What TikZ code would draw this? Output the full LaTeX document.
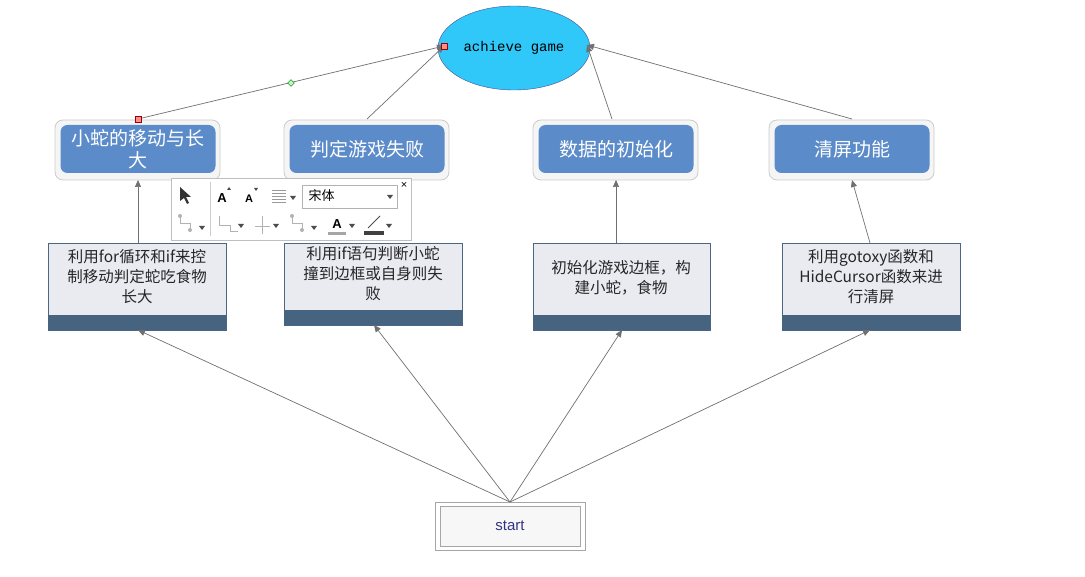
\documentclass[tikz,border=0pt]{standalone}
\usepackage{fontspec}
\setmainfont{Liberation Sans}
\newfontfamily\cjk{Noto Sans CJK SC}
\newfontfamily\monof{Liberation Mono}
\usetikzlibrary{shapes.geometric,arrows.meta}
\definecolor{topblue}{HTML}{5B8BC9}
\definecolor{boxfill}{HTML}{E9EBF1}
\definecolor{boxedge}{HTML}{4A6684}
\definecolor{band}{HTML}{46637F}
\definecolor{cyanf}{HTML}{30C8F8}
\definecolor{linec}{HTML}{707070}
\tikzset{
 x=1pt,y=-1pt,
 conn/.style={draw=linec,line width=0.7pt,-{Triangle[length=7pt,width=6pt]}},
 topouter/.style={draw=gray!40,fill=gray!8,rounded corners=8pt,line width=0.8pt},
 topinner/.style={fill=topblue,rounded corners=7pt,text=white,font=\cjk\fontsize{19}{22}\selectfont,align=center,inner sep=0pt},
 lowbox/.style={draw=boxedge,fill=boxfill,line width=0.7pt},
 lowtext/.style={font=\cjk\fontsize{15.5}{20}\selectfont,align=center,inner sep=0pt,text=black!85},
 mk/.style={draw=red!60!black,fill=red!45,minimum size=6pt,inner sep=0pt},
 tri/.style={fill=black!70},
}
\begin{document}
\begin{tikzpicture}
\useasboundingbox (0,0) rectangle (1085,577);
\fill[white] (0,0) rectangle (1085,577);
% ellipse
\node[ellipse,draw=blue!40!black!70,fill=cyanf,minimum width=140pt,minimum height=84pt,font=\monof\fontsize{14}{16}\selectfont] (goal) at (514,48) {achieve game};
% top boxes
\foreach \n/\cx/\t in {t1/138/{小蛇的移动与长\\大},t2/367/判定游戏失败,t3/616/数据的初始化,t4/852/清屏功能}{
 \draw[topouter] (\cx-83,120) rectangle (\cx+82,180);
 \node[topinner,minimum width=155pt,minimum height=48pt] (\n) at (\cx,149) {\t};
}
% lower boxes
\draw[lowbox] (48,243) rectangle (226,330); \fill[band] (48,315) rectangle (226,330);
\node[lowtext] (b1) at (137,277) {利用for循环和if来控\\制移动判定蛇吃食物\\长大};
\coordinate (b1t) at (138,243); \coordinate (b1b) at (138,330);
\draw[lowbox] (284,243) rectangle (462,325); \fill[band] (284,310) rectangle (462,325);
\node[lowtext] (b2) at (373,274) {利用if语句判断小蛇\\撞到边框或自身则失\\败};
\coordinate (b2b) at (374,325);
\draw[lowbox] (533,243) rectangle (710,330); \fill[band] (533,315) rectangle (710,330);
\node[lowtext] (b3) at (621,278) {初始化游戏边框，构\\建小蛇，食物};
\coordinate (b3t) at (616,243); \coordinate (b3b) at (622,330);
\draw[lowbox] (782,243) rectangle (960,330); \fill[band] (782,315) rectangle (960,330);
\node[lowtext] (b4) at (871,277) {利用gotoxy函数和\\HideCursor函数来进\\行清屏};
\coordinate (b4t) at (870,243); \coordinate (b4b) at (870,330);
% start
\draw[gray!70,line width=0.8pt] (435,502) rectangle (585,550);
\node[draw=gray!70,line width=0.8pt,fill=gray!6,minimum width=140pt,minimum height=40pt,text=blue!40!black!80,font=\fontsize{15}{17}\selectfont] (start) at (510,526) {start};
\coordinate (s) at (510,502);
% connectors
\foreach \e in {b1b,b2b,b3b,b4b}{\draw[conn] (s) -- (\e);}
\coordinate (t1b) at (138,180); \coordinate (t3b) at (616,180); \coordinate (t4b) at (852,180);
\draw[conn] (b1t) -- (t1b);
\draw[conn] (b3t) -- (t3b);
\draw[conn] (b4t) -- (t4b);
\coordinate (t1t) at (138,119); \coordinate (t2t) at (367,119); \coordinate (t3t) at (612,119); \coordinate (t4t) at (852,119);
\coordinate (gl) at (444,46); \coordinate (gr) at (587,45);
\draw[conn] (t1t) -- (gl);
\draw[conn] (t2t) -- (gl);
\draw[conn] (t3t) -- (gr);
\draw[conn] (t4t) -- (gr);
\node[mk] (m1) at (t1t) {};
\node[mk] (m2) at (gl) {};
\node[diamond,draw=green!40!black,fill=green!30,minimum size=7pt,inner sep=0pt] (m3) at (291,83) {};
% toolbar overlay
\draw[gray!50,fill=white] (171,178) rectangle (411,240);
\draw[gray!40] (210,182) -- (210,236);
\draw[gray!60,fill=white] (302,185) rectangle (397,208);
\node[font=\cjk\fontsize{13}{15}\selectfont,anchor=west] (tb) at (305,196) {宋体};
\fill[tri] (387,195) -- (393,195) -- (390,199) -- cycle;
\node[font=\fontsize{11}{12}\selectfont] (tbx) at (404,185) {×};
\fill[black!80] (180,187) -- (180,201) -- (184,198) -- (187,204) -- (189,203) -- (186,197) -- (191,197) -- cycle;
\node[font=\bfseries\fontsize{13}{14}\selectfont] (ta1) at (222,198) {A};
\node[font=\bfseries\fontsize{11}{12}\selectfont] (ta2) at (249,199) {A};
\fill[black!70] (227,190) -- (231,190) -- (229,187) -- cycle;
\fill[black!70] (254,188) -- (258,188) -- (256,191) -- cycle;
\foreach \yy in {190,193,196,199,202}{\draw[gray!80] (272,\yy) -- (286,\yy);}
\fill[tri] (290,196) -- (296,196) -- (293,200) -- cycle;
\draw[gray!60] (180,216) -- (180,223) -- (190,223) -- (190,230);
\fill[gray!60] (180,216) circle (2pt) (190,230) circle (2pt);
\fill[tri] (199,226) -- (205,226) -- (202,230) -- cycle;
\draw[gray!60] (219,216) -- (219,225) -- (230,225) -- (230,231) -- (238,231);
\fill[tri] (238,224) -- (244,224) -- (241,228) -- cycle;
\draw[gray!60] (255,226) -- (270,226) (262,216) -- (262,234);
\fill[tri] (273,224) -- (279,224) -- (276,228) -- cycle;
\draw[gray!60] (292,216) -- (292,223) -- (302,223) -- (302,230);
\fill[gray!60] (292,216) circle (2pt) (302,230) circle (2pt);
\fill[tri] (311,226) -- (317,226) -- (314,230) -- cycle;
\node[font=\bfseries\fontsize{13}{14}\selectfont] (ta3) at (337,224) {A};
\fill[gray!70] (328,232) rectangle (346,235);
\fill[tri] (349,224) -- (355,224) -- (352,228) -- cycle;
\fill[black!75] (364,231) rectangle (384,235);
\draw[black!70,line width=1pt] (368,228) -- (380,216);
\fill[tri] (386,224) -- (392,224) -- (389,228) -- cycle;
\end{tikzpicture}
\end{document}
